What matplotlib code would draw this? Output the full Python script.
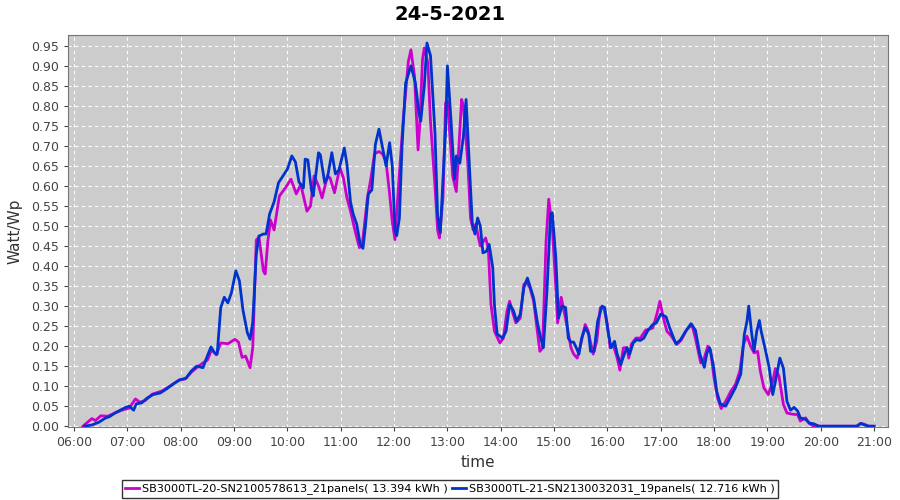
import matplotlib
matplotlib.use("Agg")
import matplotlib.pyplot as plt

# leituras aproximadas do grafico (hora, Watt/Wp)
m_time = ["06:10", "06:20", "06:24", "06:30", "06:38", "06:47", "06:55", "07:02", "07:09", "07:14",
          "07:20", "07:28", "07:39", "07:47", "07:58", "08:05", "08:12", "08:20", "08:25", "08:30",
          "08:35", "08:40", "08:45", "08:53", "09:01", "09:05", "09:09", "09:13", "09:18", "09:21",
          "09:25", "09:28", "09:33", "09:35", "09:38", "09:41", "09:45", "09:51", "09:58", "10:04",
          "10:10", "10:15", "10:22", "10:26", "10:30", "10:35", "10:39", "10:45", "10:48", "10:53",
          "10:59", "11:03", "11:07", "11:11", "11:17", "11:21", "11:24", "11:30", "11:34", "11:38",
          "11:43", "11:47", "11:51", "11:55", "11:58", "12:01", "12:05", "12:10", "12:16", "12:19",
          "12:23", "12:27", "12:29", "12:32", "12:34", "12:38", "12:41", "12:46", "12:49", "12:51",
          "12:55", "12:58", "13:00", "13:03", "13:06", "13:10", "13:13", "13:16", "13:18", "13:23",
          "13:26", "13:29", "13:32", "13:35", "13:37", "13:43", "13:46", "13:49", "13:53", "13:59",
          "14:03", "14:07", "14:10", "14:14", "14:17", "14:22", "14:26", "14:29", "14:33", "14:37",
          "14:40", "14:44", "14:47", "14:51", "14:54", "14:58", "15:02", "15:04", "15:08", "15:11",
          "15:15", "15:19", "15:22", "15:26", "15:30", "15:35", "15:38", "15:44", "15:48", "15:52",
          "15:56", "16:00", "16:03", "16:07", "16:11", "16:14", "16:18", "16:22", "16:24", "16:27",
          "16:32", "16:37", "16:43", "16:51", "16:56", "16:59", "17:03", "17:07", "17:12", "17:18",
          "17:23", "17:29", "17:35", "17:39", "17:45", "17:49", "17:53", "17:56", "18:00", "18:04",
          "18:08", "18:13", "18:19", "18:24", "18:29", "18:33", "18:37", "18:41", "18:45", "18:49",
          "18:52", "18:56", "19:01", "19:06", "19:09", "19:13", "19:18", "19:22", "19:28", "19:34",
          "19:37", "19:43", "19:47", "19:52", "20:40", "20:45", "20:49", "20:54", "21:00"]
m_vals = [0.000, 0.019, 0.014, 0.026, 0.025, 0.034, 0.041, 0.045, 0.068, 0.060,
          0.064, 0.080, 0.088, 0.099, 0.115, 0.118, 0.135, 0.150, 0.158, 0.165,
          0.192, 0.178, 0.208, 0.206, 0.217, 0.210, 0.172, 0.175, 0.146, 0.196,
          0.465, 0.472, 0.388, 0.380, 0.462, 0.515, 0.490, 0.575, 0.596, 0.617,
          0.580, 0.604, 0.537, 0.550, 0.625, 0.600, 0.570, 0.625, 0.620, 0.583,
          0.646, 0.620, 0.570, 0.537, 0.480, 0.446, 0.450, 0.570, 0.620, 0.680,
          0.686, 0.680, 0.660, 0.580, 0.510, 0.466, 0.600, 0.757, 0.910, 0.940,
          0.874, 0.690, 0.757, 0.916, 0.945, 0.908, 0.760, 0.600, 0.490, 0.470,
          0.570, 0.808, 0.812, 0.720, 0.624, 0.586, 0.700, 0.816, 0.800, 0.657,
          0.520, 0.490, 0.505, 0.470, 0.450, 0.470, 0.445, 0.304, 0.237, 0.208,
          0.220, 0.287, 0.312, 0.280, 0.258, 0.270, 0.354, 0.360, 0.345, 0.312,
          0.258, 0.187, 0.195, 0.462, 0.567, 0.496, 0.345, 0.258, 0.322, 0.290,
          0.245, 0.196, 0.180, 0.170, 0.205, 0.254, 0.240, 0.180, 0.212, 0.296,
          0.296, 0.254, 0.196, 0.200, 0.170, 0.140, 0.196, 0.196, 0.170, 0.205,
          0.220, 0.220, 0.240, 0.245, 0.283, 0.312, 0.270, 0.237, 0.225, 0.204,
          0.215, 0.240, 0.254, 0.220, 0.158, 0.170, 0.200, 0.190, 0.120, 0.070,
          0.044, 0.062, 0.088, 0.104, 0.138, 0.204, 0.225, 0.200, 0.183, 0.187,
          0.138, 0.096, 0.079, 0.112, 0.144, 0.125, 0.054, 0.033, 0.030, 0.029,
          0.013, 0.021, 0.007, 0.000, 0.000, 0.007, 0.005, 0.000, 0.000]

b_time = ["06:12", "06:20", "06:28", "06:35", "06:40", "06:46", "06:51", "06:57", "07:02", "07:07",
          "07:10", "07:16", "07:22", "07:29", "07:37", "07:44", "07:52", "07:59", "08:06", "08:12",
          "08:18", "08:25", "08:29", "08:34", "08:38", "08:41", "08:45", "08:49", "08:53", "08:57",
          "09:02", "09:06", "09:10", "09:15", "09:18", "09:21", "09:25", "09:28", "09:33", "09:36",
          "09:40", "09:45", "09:50", "09:55", "10:00", "10:05", "10:09", "10:13", "10:18", "10:20",
          "10:23", "10:27", "10:29", "10:35", "10:37", "10:42", "10:45", "10:50", "10:54", "10:58",
          "11:04", "11:07", "11:11", "11:14", "11:18", "11:22", "11:25", "11:28", "11:31", "11:35",
          "11:39", "11:43", "11:47", "11:51", "11:55", "11:58", "12:01", "12:03", "12:06", "12:09",
          "12:13", "12:19", "12:24", "12:28", "12:30", "12:34", "12:37", "12:41", "12:46", "12:49",
          "12:52", "12:55", "12:58", "13:00", "13:04", "13:08", "13:10", "13:14", "13:18", "13:21",
          "13:24", "13:28", "13:31", "13:34", "13:37", "13:40", "13:44", "13:47", "13:51", "13:53",
          "13:56", "14:02", "14:06", "14:10", "14:14", "14:18", "14:22", "14:26", "14:30", "14:34",
          "14:37", "14:41", "14:45", "14:48", "14:52", "14:56", "14:58", "15:02", "15:05", "15:09",
          "15:13", "15:16", "15:19", "15:22", "15:25", "15:28", "15:31", "15:35", "15:39", "15:41",
          "15:45", "15:49", "15:54", "15:57", "16:00", "16:04", "16:08", "16:11", "16:15", "16:19",
          "16:22", "16:25", "16:29", "16:33", "16:37", "16:41", "16:45", "16:51", "16:55", "17:00",
          "17:06", "17:10", "17:17", "17:22", "17:28", "17:34", "17:39", "17:44", "17:49", "17:52",
          "17:55", "17:59", "18:03", "18:07", "18:13", "18:19", "18:24", "18:30", "18:34", "18:37",
          "18:39", "18:42", "18:45", "18:48", "18:51", "18:53", "18:58", "19:02", "19:06", "19:09",
          "19:14", "19:18", "19:22", "19:26", "19:30", "19:34", "19:37", "19:43", "19:47", "19:52",
          "19:58", "20:41", "20:45", "20:49", "20:54", "21:00"]
b_vals = [0.000, 0.003, 0.010, 0.020, 0.024, 0.033, 0.039, 0.046, 0.050, 0.040,
          0.056, 0.058, 0.070, 0.079, 0.083, 0.093, 0.106, 0.116, 0.120, 0.138,
          0.150, 0.146, 0.170, 0.198, 0.183, 0.180, 0.296, 0.322, 0.308, 0.333,
          0.388, 0.363, 0.290, 0.233, 0.217, 0.260, 0.430, 0.475, 0.480, 0.480,
          0.530, 0.560, 0.608, 0.625, 0.642, 0.675, 0.660, 0.610, 0.595, 0.667,
          0.665, 0.590, 0.575, 0.683, 0.678, 0.608, 0.620, 0.683, 0.630, 0.640,
          0.695, 0.654, 0.560, 0.530, 0.504, 0.454, 0.444, 0.504, 0.580, 0.590,
          0.704, 0.742, 0.696, 0.650, 0.708, 0.650, 0.490, 0.476, 0.520, 0.700,
          0.857, 0.900, 0.857, 0.782, 0.762, 0.850, 0.957, 0.925, 0.733, 0.525,
          0.483, 0.616, 0.740, 0.900, 0.766, 0.616, 0.675, 0.657, 0.724, 0.816,
          0.683, 0.507, 0.480, 0.520, 0.500, 0.433, 0.437, 0.454, 0.396, 0.300,
          0.230, 0.220, 0.237, 0.304, 0.290, 0.262, 0.280, 0.346, 0.370, 0.342,
          0.320, 0.262, 0.220, 0.196, 0.337, 0.530, 0.533, 0.420, 0.270, 0.300,
          0.296, 0.220, 0.210, 0.210, 0.196, 0.180, 0.220, 0.246, 0.230, 0.187,
          0.187, 0.262, 0.300, 0.296, 0.246, 0.196, 0.212, 0.180, 0.154, 0.180,
          0.196, 0.180, 0.208, 0.216, 0.214, 0.220, 0.237, 0.254, 0.258, 0.280,
          0.273, 0.246, 0.206, 0.215, 0.237, 0.256, 0.240, 0.180, 0.147, 0.183,
          0.196, 0.155, 0.087, 0.056, 0.050, 0.075, 0.096, 0.130, 0.229, 0.262,
          0.300, 0.237, 0.188, 0.237, 0.264, 0.237, 0.188, 0.146, 0.079, 0.112,
          0.170, 0.145, 0.062, 0.040, 0.047, 0.038, 0.021, 0.017, 0.008, 0.006,
          0.000, 0.000, 0.007, 0.003, 0.000, 0.000]

m_label = "SB3000TL-20-SN2100578613_21panels( 13.394 kWh )"
b_label = "SB3000TL-21-SN2130032031_19panels( 12.716 kWh )"
hour_ticks = list(range(6, 22))
y_ticks = [i * 0.05 for i in range(20)]


def horas(lista):
    return [int(t[:2]) + int(t[3:]) / 60 for t in lista]


fig = plt.figure(figsize=(9, 5), dpi=100)
ax = fig.add_axes([0.0756, 0.146, 0.911, 0.784])
ax.set_facecolor("#cccccc")

ax.plot(horas(m_time), m_vals, color="#cc00cc", lw=2, label=m_label)
ax.plot(horas(b_time), b_vals, color="#0033cc", lw=2, label=b_label)

ax.set_xlim(5.887, 21.26)
ax.set_ylim(-0.002, 0.977)
ax.set_xticks(hour_ticks)
ax.set_xticklabels([f"{h:02d}:00" for h in hour_ticks])
ax.set_yticks(y_ticks)
ax.set_yticklabels([f"{v:.2f}" for v in y_ticks])
ax.tick_params(labelsize=9, colors="#444444", length=3)
ax.grid(True, color="white", linestyle=(0, (3, 3)), linewidth=0.8)
for s in ax.spines.values():
    s.set_color("#777777")

ax.set_xlabel("time", fontsize=11, color="#333333")
ax.set_ylabel("Watt/Wp", fontsize=11, color="#333333", labelpad=6)
fig.suptitle("24-5-2021", fontsize=14, fontweight="bold", y=0.99)

leg = fig.legend(loc="lower center", bbox_to_anchor=(0.5, 0.0), ncol=2, fontsize=8.1,
                 frameon=True, fancybox=False, edgecolor="black", handlelength=1.2,
                 handletextpad=0.3, columnspacing=0.4, borderpad=0.3, borderaxespad=0.2)
leg.get_frame().set_linewidth(1)

fig.savefig("out.png", dpi=100)
